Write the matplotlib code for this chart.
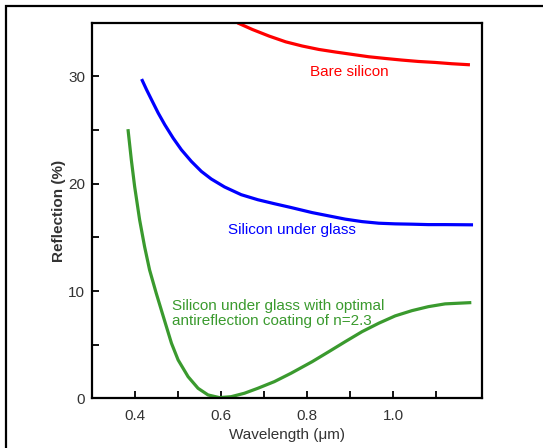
import numpy as np
import matplotlib
matplotlib.use('Agg')
import matplotlib.pyplot as plt
from matplotlib.patches import Rectangle

plt.rcParams['font.family'] = ['Liberation Sans', 'DejaVu Sans']

# 数据
bare_x = [0.6375, 0.6722, 0.7107, 0.7495, 0.7880, 0.8266, 0.8653, 0.9037,
          0.9424, 0.981, 1.0194, 1.058, 1.0965, 1.135, 1.1778]
bare_y = [35.0, 34.38, 33.77, 33.23, 32.84, 32.52, 32.28, 32.06,
          31.84, 31.68, 31.53, 31.40, 31.31, 31.19, 31.09]

glass_x = [0.4146, 0.4262, 0.4377, 0.4532, 0.4685, 0.4880, 0.5072, 0.5303,
           0.5535, 0.5766, 0.6074, 0.6461, 0.6847, 0.7231, 0.7602,
           0.811, 0.850, 0.888, 0.927, 0.966, 1.004, 1.043, 1.081, 1.120, 1.185]
glass_y = [29.76, 28.76, 27.83, 26.59, 25.50, 24.25, 23.16, 22.08,
           21.15, 20.44, 19.70, 18.98, 18.51, 18.14, 17.80,
           17.31, 17.0, 16.70, 16.47, 16.32, 16.26, 16.23, 16.19, 16.19, 16.17]

coat_x = [0.3829, 0.3907, 0.3984, 0.4100, 0.4215, 0.4331, 0.4486, 0.4639,
          0.4840, 0.4995, 0.5227, 0.5458, 0.5690, 0.5958, 0.6229,
          0.6537, 0.6847, 0.7231, 0.7618, 0.811, 0.850, 0.888, 0.927,
          0.966, 1.004, 1.043, 1.081, 1.120, 1.181]
coat_y = [25.09, 22.23, 19.74, 16.63, 14.14, 11.97, 9.79, 7.77,
          5.13, 3.57, 2.01, 0.93, 0.31, 0.06, 0.15,
          0.47, 0.93, 1.55, 2.33, 3.41, 4.35, 5.28, 6.21,
          7.0, 7.68, 8.17, 8.54, 8.80, 8.92]

fig = plt.figure(figsize=(5.43, 4.48), dpi=100)
ax = fig.add_axes([0.170, 0.111, 0.717, 0.838])

# 外框
fig.patches.append(Rectangle((6 / 543, -0.1), 1.2, (448 - 6) / 448 + 0.1,
                             transform=fig.transFigure, fill=False,
                             edgecolor='black', linewidth=1.6))

ax.plot(bare_x, bare_y, color='#ff0000', lw=2.3, solid_capstyle='butt')
ax.plot(glass_x, glass_y, color='#0000ff', lw=2.3, solid_capstyle='butt')
ax.plot(coat_x, coat_y, color='#3a9a2e', lw=2.3, solid_capstyle='butt')

ax.text(0.806, 30.4, 'Bare silicon', color='#ff0000', fontsize=11, va='center')
ax.text(0.616, 15.7, 'Silicon under glass', color='#0000ff', fontsize=11, va='center')
ax.text(0.486, 7.9, 'Silicon under glass with optimal\nantireflection coating of n=2.3',
        color='#3a9a2e', fontsize=11, va='center', linespacing=1.12)

ax.set_xlim(0.3, 1.205)
ax.set_ylim(0, 35)
ax.set_xticks(np.arange(0.4, 1.15, 0.1))
ax.set_xticklabels(['0.4', '', '0.6', '', '0.8', '', '1.0', ''])
ax.set_yticks(np.arange(0, 31, 5))
ax.set_yticklabels(['0', '', '10', '', '20', '', '30'])
ax.tick_params(direction='in', length=5, width=1.3, labelsize=11,
               labelcolor='#333333', color='black')
ax.tick_params(axis='y', pad=5)
ax.tick_params(axis='x', pad=8)

for s in ax.spines.values():
    s.set_linewidth(1.6)

ax.set_xlabel('Wavelength (μm)', fontsize=11, color='#333333', labelpad=3)
ax.set_ylabel('Reflection (%)', fontsize=11, fontweight='bold', color='#333333', labelpad=2)

plt.savefig('out.png', dpi=100)
